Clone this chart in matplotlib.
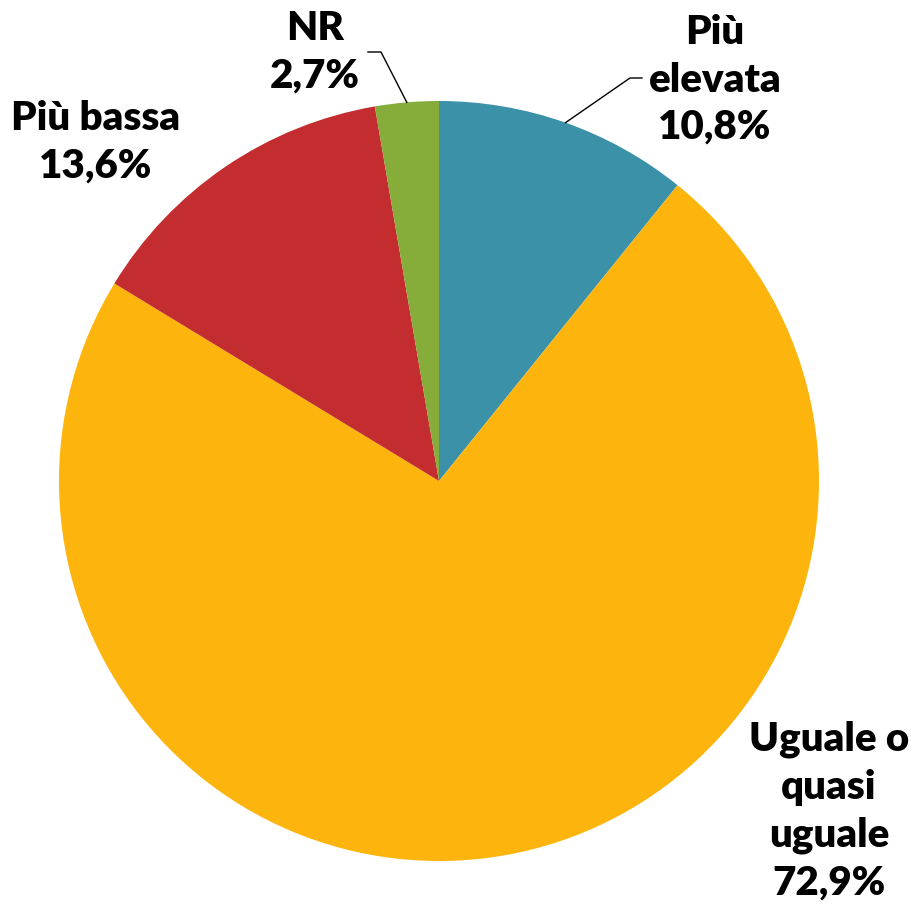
import numpy as np
import matplotlib.pyplot as plt

# Risposte (%)
categories = ["Più\nelevata", "Uguale o\nquasi\nuguale", "Più bassa", "NR"]
values = [10.8, 72.9, 13.6, 2.7]
colors = ["#3A91A8", "#FDB50D", "#C32D2F", "#86AC3A"]

W, H = 911, 906
fig = plt.figure(figsize=(W / 100, H / 100), dpi=100)
ax = fig.add_axes([0, 0, 1, 1])

cx, cy, r = 439, H - 481, 380

wedges, _ = ax.pie(
    values,
    colors=colors,
    startangle=90,
    counterclock=False,
    center=(cx, cy),
    radius=r,
    frame=True,
)
ax.set_xlim(0, W)
ax.set_ylim(0, H)
ax.axis("off")

font = dict(family=["Lato", "DejaVu Sans"], fontsize=29, fontweight="heavy",
            ha="center", va="center", linespacing=1.35)


def label(i):
    return f"{categories[i]}\n{values[i]:.1f}%".replace(".", ",")


def arc_point(w):
    ang = np.deg2rad((w.theta1 + w.theta2) / 2)
    return cx + r * np.cos(ang), cy + r * np.sin(ang)


# Più elevata
ax.text(715, H - 80, label(0), **font)
px, py = arc_point(wedges[0])
ax.plot([px, 630, 642], [py, H - 78, H - 78], color="black", lw=1)

# Uguale o quasi uguale
ax.text(829, H - 811, label(1),
        bbox=dict(facecolor="white", edgecolor="none", pad=4), **font)

# Più bassa
ax.text(96, H - 142, label(2), **font)

# NR
ax.text(315, H - 52, label(3), **font)
px, py = arc_point(wedges[3])
ax.plot([px, 381, 368], [py, H - 52, H - 52], color="black", lw=1)

fig.savefig("out.png", dpi=100)
